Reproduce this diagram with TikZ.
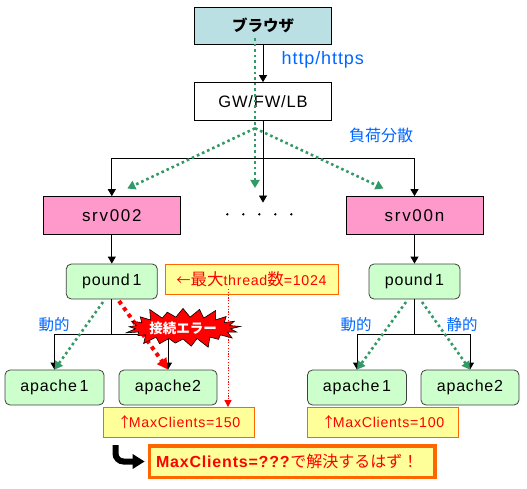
\documentclass[tikz,border=0pt]{standalone}
\usepackage{xcolor}
\usepackage{fontspec}
\setmainfont[LetterSpace=5]{Liberation Sans}
\newfontfamily\jpfont{Noto Sans CJK JP}
\newfontfamily\widefont[LetterSpace=10]{Liberation Sans}
\usepackage{tikz}
\usetikzlibrary{
  arrows.meta,
  positioning,
  shapes.symbols,
  calc
}
\definecolor{BrowserTeal}{HTML}{BBE0E3}
\definecolor{SrvPink}{HTML}{FF99CC}
\definecolor{ProcMint}{HTML}{CCFFCC}
\definecolor{NoteYellow}{HTML}{FFFF99}
\definecolor{NoteOrange}{HTML}{FF6600}
\definecolor{FlowGreen}{HTML}{339966}
\definecolor{LabelBlue}{HTML}{0066FF}
\newcommand{\notearrow}{{\jpfont ↑}\kern-3pt}
\newcommand{\notejp}[1]{{\fontsize{16.5}{17}\selectfont\jpfont #1}}
\tikzset{
  boxnode/.style={draw=black,line width=0.8pt,inner sep=0pt,minimum width=137pt,minimum height=37.5pt,
    font=\fontsize{16.5}{18}\selectfont},
  procnode/.style={draw=black!75,fill=ProcMint,rounded corners=5pt,line width=0.8pt,inner sep=0pt,
    minimum height=35pt,font=\fontsize{16}{18}\selectfont},
  notenode/.style={draw=NoteOrange,fill=NoteYellow,line width=0.8pt,inner sep=0pt,minimum height=30pt,
    text=red,font=\fontsize{14.2}{17}\selectfont},
  labelnode/.style={text=LabelBlue,inner sep=0pt,font=\fontsize{15.5}{17}\selectfont\jpfont},
  link/.style={draw=black,line width=0.8pt},
  linkarrow/.style={link,-{Triangle[length=7pt,width=8pt]}},
  flowarrow/.style={draw=FlowGreen,line width=2.6pt,dash pattern=on 2.6pt off 3pt,
    -{Triangle[length=8pt,width=9pt]}}
}
\begin{document}
\begin{tikzpicture}[x=1pt,y=-1pt]
  \useasboundingbox (0,0) rectangle (527,489);
  % top row
  \node[boxnode,fill=BrowserTeal,font=\fontsize{15.5}{17}\selectfont\jpfont\bfseries] (browser) at (263,25.8) {ブラウザ};
  \node[boxnode,fill=white] (gateway) at (263,101.3) {GW/FW/LB};
  \node[labelnode,font=\fontsize{18}{20}\selectfont\rmfamily] (httplabel) at (322.8,60) {http/https};
  \node[labelnode,font=\fontsize{16}{18}\selectfont\jpfont] (balancelabel) at (381,135) {負荷分散};
  % servers
  \node[boxnode,fill=SrvPink,font=\fontsize{17}{19}\selectfont\widefont] (srvleft) at (111.8,215.3) {srv002};
  \node[boxnode,fill=SrvPink,font=\fontsize{17}{19}\selectfont\widefont] (srvright) at (414.5,215.3) {srv00n};
  \node[inner sep=0pt,minimum width=70pt,minimum height=23pt] (srvdots) at (259.3,214.3) {};
  \foreach \dotx in {227.3,243.3,259.3,275.3,291.3}
    \fill (\dotx,214.3) circle (1.3pt);
  % left column
  \node[procnode,minimum width=91pt] (poundleft) at (111.8,281.5) {pound\,1};
  \node[procnode,minimum width=99pt] (apacheA) at (54.5,387.5) {apache\,1};
  \node[procnode,minimum width=98pt] (apacheB) at (168,387.5) {apache2};
  \node[notenode,minimum width=151pt] (noteleft) at (179,422.5) {\notearrow MaxClients=150};
  \node[notenode,minimum width=173pt] (notethread) at (251.5,279) {{\jpfont ←}\notejp{最大}thread\notejp{数}=1024};
  % right column
  \node[procnode,minimum width=91pt] (poundright) at (414.5,281.5) {pound\,1};
  \node[procnode,minimum width=99pt] (apacheC) at (357,387.5) {apache\,1};
  \node[procnode,minimum width=98pt] (apacheD) at (470,387.5) {apache2};
  \node[notenode,minimum width=151pt] (noteright) at (383,422.5) {\notearrow MaxClients=100};
  % conclusion
  \node[notenode,line width=3.5pt,minimum width=285.7pt,minimum height=31.5pt,font=\fontsize{16}{18}\selectfont] (fixbox)
    at (292.3,461.5) {\textbf{MaxClients=???}{\jpfont で解決するはず！}\hspace*{10pt}};
  % connectors
  \coordinate (busmain) at (263,158.3);
  \coordinate (busleft) at (111.8,334);
  \coordinate (busright) at (414.5,334);
  \draw[linkarrow] (browser.south) -- (gateway.north);
  \draw[linkarrow] (gateway.south) -- (gateway.south |- srvdots.north);
  \draw[linkarrow] (busmain) -| (srvleft.north);
  \draw[linkarrow] (busmain) -| (srvright.north);
  \draw[linkarrow] (srvleft.south) -- (poundleft.north);
  \draw[linkarrow] (srvright.south) -- (poundright.north);
  \draw[link] (poundleft.south) -- (busleft);
  \draw[linkarrow] (busleft) -| (apacheA.north);
  \draw[linkarrow] (busleft) -| (apacheB.north);
  \draw[link] (poundright.south) -- (busright);
  \draw[linkarrow] (busright) -| (apacheC.north);
  \draw[linkarrow] (busright) -| (apacheD.north);
  % request flow
  \coordinate (flowstart) at (255,38);
  \coordinate (flowfork) at (255,128.3);
  \coordinate (flowdown) at (255,188);
  \coordinate (flowleft) at (127.3,188.5);
  \coordinate (flowright) at (383.5,188.5);
  \draw[flowarrow] (flowstart) -- (flowdown);
  \draw[flowarrow] (flowfork) -- (flowleft);
  \draw[flowarrow] (flowfork) -- (flowright);
  \coordinate (poundleftout) at (103,302);
  \coordinate (poundrightoutA) at (406,302);
  \coordinate (poundrightoutB) at (422,302);
  \draw[flowarrow] (poundleftout) -- (apacheA.north);
  \draw[flowarrow] (poundrightoutA) -- (apacheC.north);
  \draw[flowarrow] (poundrightoutB) -- (apacheD.north);
  \node[labelnode] (dynlabelA) at (54,325) {動的};
  \node[labelnode] (dynlabelB) at (356,325) {動的};
  \node[labelnode] (statlabel) at (462,325) {静的};
  % error path
  \coordinate (errorstart) at (119,301);
  \draw[draw=red,line width=4pt,dash pattern=on 4pt off 4pt,-{Triangle[length=11pt,width=11pt]}]
    (errorstart) -- (apacheB.north);
  \node[starburst,starburst points=21,starburst point height=12pt,draw=black,fill=red,line width=0.6pt,
    minimum width=114pt,minimum height=46pt,inner sep=0pt,text=white,
    font=\fontsize{13.5}{15}\selectfont\jpfont\bfseries] (errorburst) at (183,328) {接続エラー};
  \coordinate (threadout) at (228,289);
  \draw[draw=red,line width=0.8pt,dash pattern=on 1.2pt off 1.6pt,-{Triangle[length=7pt,width=7pt]}] (threadout) -- (threadout |- noteleft.north);
  % fix arrow
  \coordinate (fixstart) at (115.5,445);
  \draw[line width=6pt,rounded corners=8pt,-{Triangle[length=12pt,width=14pt]},shorten >=3pt]
    (fixstart) |- (fixbox.west);
\end{tikzpicture}
\end{document}
